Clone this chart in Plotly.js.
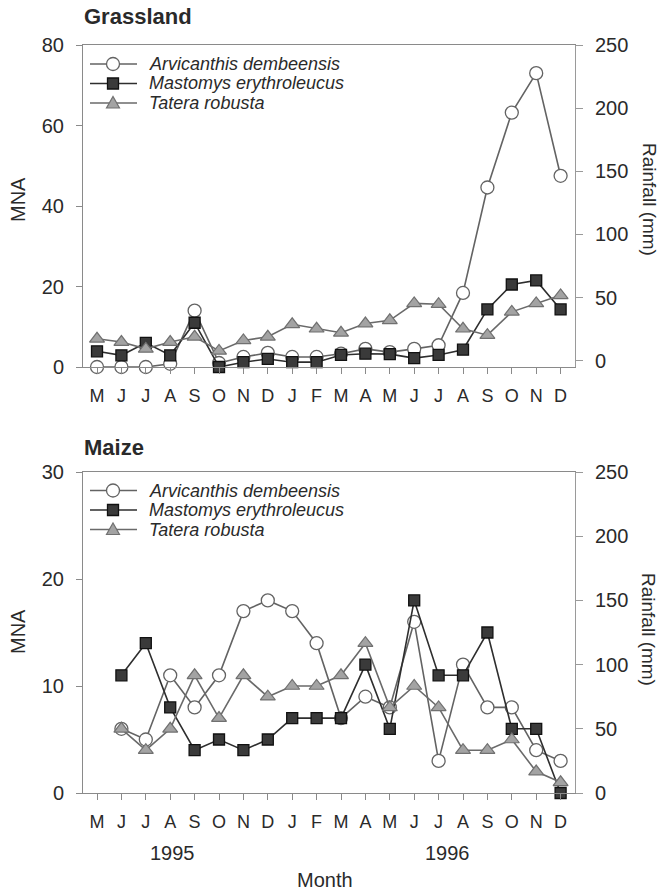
<!DOCTYPE html>
<html>
<head>
<meta charset="utf-8">
<script src="https://cdn.plot.ly/plotly-3.0.1.min.js"></script>
<style>html,body{margin:0;padding:0;background:#fff;}#chart{width:664px;height:891px;}</style>
</head>
<body>
<div id="chart"></div>
<script>
// ---- data ----
const categories = ['May-95','Jun-95','Jul-95','Aug-95','Sep-95','Oct-95','Nov-95','Dec-95',
  'Jan-96','Feb-96','Mar-96','Apr-96','May-96','Jun-96','Jul-96','Aug-96','Sep-96','Oct-96','Nov-96','Dec-96'];
const monthLabels = ['M','J','J','A','S','O','N','D','J','F','M','A','M','J','J','A','S','O','N','D'];
const speciesNames = ['Arvicanthis dembeensis','Mastomys erythroleucus','Tatera robusta'];

// Grassland MNA
const grassArvicanthis = [0,0,0,0.8,14,1,2.5,3.5,2.5,2.5,3.3,4.5,3.7,4.5,5.4,18.4,44.6,63.2,73,47.5];
const grassMastomys    = [3.9,2.9,6,2.9,11,0,1.2,2,1.2,1.2,3,3.3,3.2,2.2,3,4.3,14.3,20.5,21.5,14.3];
const grassTatera      = [7,6.2,4.5,6.2,7.5,4,6.6,7.5,10.6,9.5,8.5,10.8,11.6,15.8,15.6,9.5,7.9,13.7,15.8,17.8];

// Maize MNA
const maizeArvicanthis = [null,6,5,11,8,11,17,18,17,14,7,9,8,16,3,12,8,8,4,3];
const maizeMastomys    = [null,11,14,8,4,5,4,5,7,7,7,12,6,18,11,11,15,6,6,0];
const maizeTatera      = [null,6,4,6,11,7,11,9,10,10,11,14,8,10,8,4,4,5,2,1];

const mnaTicksGrass = [0,20,40,60,80];
const mnaTicksMaize = [0,10,20,30];
const rainTicks = [0,50,100,150,200,250];
const yearLabels = ['1995','1996'];

// ---- styles ----
const FONT = '"Liberation Sans", Arial, sans-serif';
const TXT = '#2a2a2a';
const W = 664, H = 891, L = 83, R = 89;
const PW = W - L - R;
const px = x => (x - L) / PW;
const py = y => 1 - y / H;

const styles = [
  {line:{color:'#636363', width:1.6}, marker:{symbol:'circle', size:13, color:'#ffffff', line:{color:'#636363', width:1.3}}},
  {line:{color:'#2e2e2e', width:1.6}, marker:{symbol:'square', size:11, color:'#3a3a3a', line:{color:'#111111', width:1.3}}},
  {line:{color:'#6a6a6a', width:1.6}, marker:{symbol:'triangle-up', size:13, color:'#a3a3a3', line:{color:'#707070', width:1.2}}}
];

function mk(y, idx, xa, ya) {
  return {type:'scatter', mode:'lines+markers', x:categories, y:y, xaxis:xa, yaxis:ya,
    name:speciesNames[idx], line:styles[idx].line, marker:styles[idx].marker,
    connectgaps:false, showlegend:false, cliponaxis:false};
}

const traces = [
  mk(grassArvicanthis,0,'x','y'),
  mk(grassMastomys,1,'x','y'),
  mk(grassTatera,2,'x','y'),
  mk(maizeArvicanthis,0,'x2','y3'),
  mk(maizeMastomys,1,'x2','y3'),
  mk(maizeTatera,2,'x2','y3'),
  // invisible traces to activate rainfall axes
  {type:'scatter', mode:'none', x:[], y:[], xaxis:'x', yaxis:'y2', showlegend:false, hoverinfo:'skip'},
  {type:'scatter', mode:'none', x:[], y:[], xaxis:'x2', yaxis:'y4', showlegend:false, hoverinfo:'skip'}
];

const xRange = [-0.574, 19.59];
function xAxis(anchor) {
  return {type:'category', categoryorder:'array', categoryarray:categories,
    range:xRange, domain:[0,1], anchor:anchor,
    tickmode:'array', tickvals:categories, ticktext:monthLabels,
    ticks:'outside', ticklen:6, tickwidth:1, tickcolor:'#8a8a8a',
    showline:true, linecolor:'#8a8a8a', linewidth:1, mirror:true,
    showgrid:false, zeroline:false, ticklabelstandoff:6,
    tickfont:{family:FONT, size:18, color:TXT}};
}
function yLeft(domain, range, ticks, anchor) {
  return {domain:domain, range:range, anchor:anchor, tickmode:'array', tickvals:ticks,
    ticks:'outside', ticklen:6, tickwidth:1, tickcolor:'#8a8a8a',
    showline:true, linecolor:'#8a8a8a', linewidth:1, showgrid:false, zeroline:false,
    ticklabelstandoff:8, tickfont:{family:FONT, size:20, color:TXT}};
}
function yRight(overlay, range, anchor) {
  return {overlaying:overlay, side:'right', range:range, anchor:anchor, tickmode:'array', tickvals:rainTicks,
    ticks:'outside', ticklen:7, tickwidth:1, tickcolor:'#9a9a9a',
    showline:true, linecolor:'#9a9a9a', linewidth:1, showgrid:false, zeroline:false,
    ticklabelstandoff:8, tickfont:{family:FONT, size:20, color:TXT}};
}

const topDom = [py(367), py(45)];
const botDom = [py(793), py(472)];

const annotations = [];
const shapes = [];
function txt(text, x, y, size, opts) {
  annotations.push(Object.assign({text:text, xref:'paper', yref:'paper', x:px(x), y:py(y),
    showarrow:false, xanchor:'center', yanchor:'middle', borderpad:0,
    font:{family:FONT, size:size, color:TXT}}, opts || {}));
}
// panel titles
txt('<b>Grassland</b>', 83, 16, 22, {xanchor:'left'});
txt('<b>Maize</b>', 83, 447, 22, {xanchor:'left'});
// axis titles
txt('MNA', 18, 200, 20, {textangle:-90});
txt('MNA', 18, 632, 20, {textangle:-90});
txt('Rainfall (mm)', 649, 199, 19, {textangle:90});
txt('Rainfall (mm)', 649, 629, 19, {textangle:90});
txt(yearLabels[0], 172, 853, 20);
txt(yearLabels[1], 447, 853, 20);
txt('Month', 325, 880, 20);

// legends
function legend(rows) {
  const sym = ['circle','square','triangle'];
  rows.forEach((ry, i) => {
    const st = styles[i];
    shapes.push({type:'line', xref:'paper', yref:'paper', x0:px(90), x1:px(137), y0:py(ry), y1:py(ry),
      line:{color:st.line.color, width:1.6}, layer:'above'});
    const c = 113;
    if (sym[i] === 'circle') {
      shapes.push({type:'circle', xref:'paper', yref:'paper', x0:px(c-6.5), x1:px(c+6.5), y0:py(ry+6.5), y1:py(ry-6.5),
        fillcolor:st.marker.color, line:{color:st.marker.line.color, width:1.3}, layer:'above'});
    } else if (sym[i] === 'square') {
      shapes.push({type:'rect', xref:'paper', yref:'paper', x0:px(c-5.5), x1:px(c+5.5), y0:py(ry+5.5), y1:py(ry-5.5),
        fillcolor:st.marker.color, line:{color:st.marker.line.color, width:1.3}, layer:'above'});
    } else {
      const p = `M${px(c-6.5)},${py(ry+5)} L${px(c+6.5)},${py(ry+5)} L${px(c)},${py(ry-6.5)} Z`;
      shapes.push({type:'path', xref:'paper', yref:'paper', path:p,
        fillcolor:st.marker.color, line:{color:st.marker.line.color, width:1.2}, layer:'above'});
    }
    txt('<i>' + speciesNames[i] + '</i>', 148, ry, 18, {xanchor:'left'});
  });
}
legend([64, 83.5, 103]);
legend([490.5, 510, 529.5]);

const layout = {
  width:W, height:H, margin:{l:L, r:R, t:0, b:0},
  paper_bgcolor:'#ffffff', plot_bgcolor:'#ffffff', showlegend:false,
  font:{family:FONT, color:TXT},
  xaxis: xAxis('y'),
  yaxis: yLeft(topDom, [0,80], mnaTicksGrass, 'x'),
  yaxis2: yRight('y', [-5,250], 'x'),
  xaxis2: xAxis('y3'),
  yaxis3: yLeft(botDom, [0,30], mnaTicksMaize, 'x2'),
  yaxis4: yRight('y3', [0,250], 'x2'),
  annotations: annotations,
  shapes: shapes
};

Plotly.newPlot('chart', traces, layout, {displayModeBar:false, staticPlot:true});
</script>
</body>
</html>
